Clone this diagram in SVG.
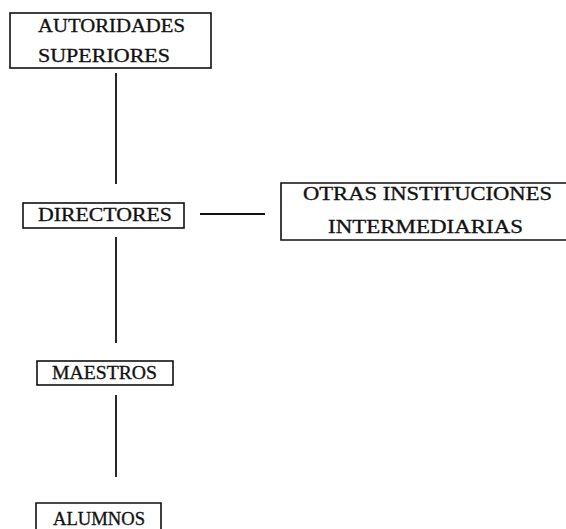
<svg xmlns="http://www.w3.org/2000/svg" width="566" height="529" viewBox="0 0 566 529">
<style>
.box{fill:none;stroke:#111;stroke-width:1.6}
.t{font-family:"Liberation Serif","Times New Roman",serif;font-size:18px;fill:#111;stroke:#111;stroke-width:0.3}
.c{stroke:#111;stroke-width:1.8;fill:none}
</style>
<rect width="566" height="529" fill="#fff"/>
<g id="connectors">
<line class="c" x1="116" y1="73" x2="116" y2="184"/>
<line class="c" x1="200" y1="214" x2="265" y2="214"/>
<line class="c" x1="116" y1="237" x2="116" y2="343"/>
<line class="c" x1="116" y1="395" x2="116" y2="477"/>
</g>
<g id="autoridades">
<rect class="box" x="10" y="13" width="201" height="55"/>
<text class="t" x="38" y="32" textLength="147" lengthAdjust="spacingAndGlyphs">AUTORIDADES</text>
<text class="t" x="38" y="62" textLength="132" lengthAdjust="spacingAndGlyphs">SUPERIORES</text>
</g>
<g id="directores">
<rect class="box" x="23" y="203" width="161" height="25"/>
<text class="t" x="38" y="221" textLength="134" lengthAdjust="spacingAndGlyphs">DIRECTORES</text>
</g>
<g id="otras">
<path class="box" d="M570 183 H281 V240 H570"/>
<text class="t" x="303" y="200" textLength="249" lengthAdjust="spacingAndGlyphs">OTRAS INSTITUCIONES</text>
<text class="t" x="328" y="233" textLength="195" lengthAdjust="spacingAndGlyphs">INTERMEDIARIAS</text>
</g>
<g id="maestros">
<rect class="box" x="37" y="361" width="136" height="24"/>
<text class="t" x="52" y="379" textLength="105" lengthAdjust="spacingAndGlyphs">MAESTROS</text>
</g>
<g id="alumnos">
<path class="box" d="M36 532 V503 H161 V532"/>
<text class="t" x="53" y="525" textLength="92" lengthAdjust="spacingAndGlyphs">ALUMNOS</text>
</g>
</svg>
